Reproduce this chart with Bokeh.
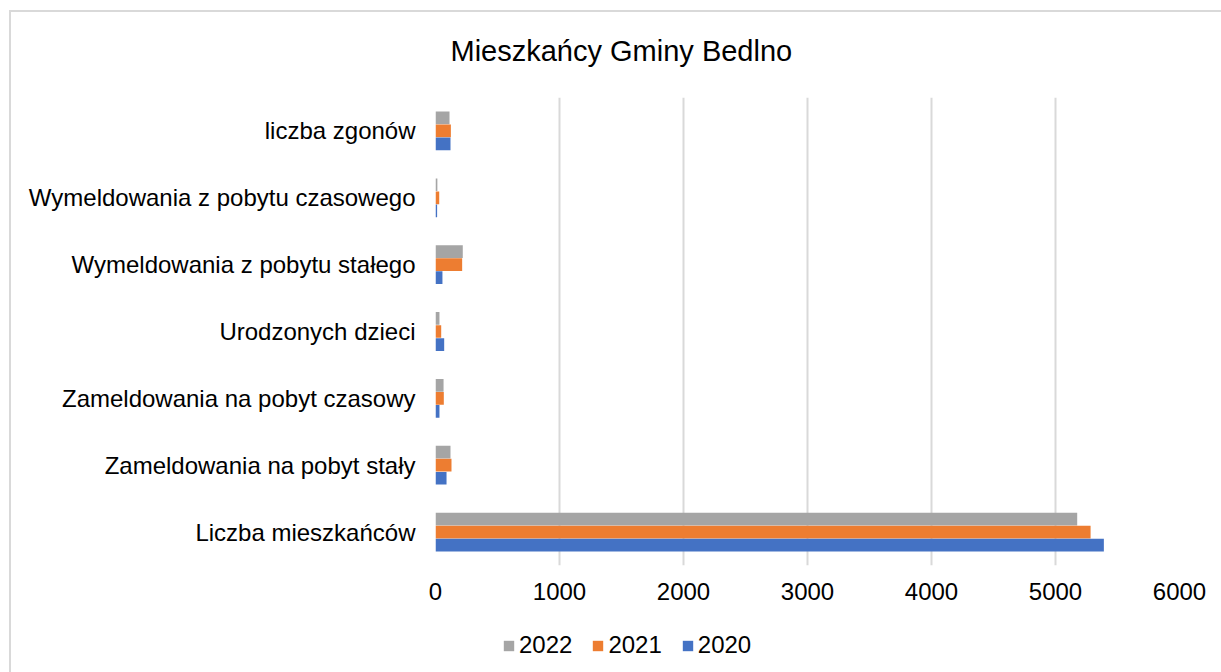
from bokeh.plotting import figure
from bokeh.layouts import column
from bokeh.models import ColumnDataSource, FactorRange, Legend, LegendItem, Title, Range1d
from bokeh.transform import dodge
from bokeh.embed import file_html
from bokeh.resources import INLINE

categories = [
    "Liczba mieszkańców",
    "Zameldowania na pobyt stały",
    "Zameldowania na pobyt czasowy",
    "Urodzonych dzieci",
    "Wymeldowania z pobytu stałego",
    "Wymeldowania z pobytu czasowego",
    "liczba zgonów",
]
v2020 = [5390, 89, 32, 70, 56, 13, 121]
v2021 = [5283, 129, 67, 46, 215, 30, 124]
v2022 = [5175, 121, 65, 32, 220, 15, 113]
years = ["2022", "2021", "2020"]
colors = {"2022": "#A5A5A5", "2021": "#ED7D31", "2020": "#4472C4"}

src = ColumnDataSource(dict(cat=categories, y2020=v2020, y2021=v2021, y2022=v2022))

FONT = "Liberation Sans"
LEG_H = 50

p = figure(
    width=1221, height=672 - LEG_H,
    y_range=FactorRange(*categories, range_padding=0),
    x_range=(0, 6000),
    output_backend="svg", toolbar_location=None,
    min_border_left=435, min_border_right=42,
    min_border_top=97, min_border_bottom=672 - LEG_H - 565,
    title=None,
)
p.outline_line_color = None
p.background_fill_color = "white"
p.border_fill_color = None

offsets = {"2022": 0.195, "2021": 0.0, "2020": -0.195}
for yr in years:
    p.hbar(y=dodge("cat", offsets[yr], range=p.y_range), right="y" + yr, left=0,
           height=0.19, source=src, fill_color=colors[yr], line_color=None)

p.ygrid.grid_line_color = None
p.xgrid.grid_line_color = "#D9D9D9"
p.xgrid.grid_line_width = 2
p.xaxis.ticker = [0, 1000, 2000, 3000, 4000, 5000, 6000]

for ax in (p.xaxis[0], p.yaxis[0]):
    ax.axis_line_color = None
    ax.major_tick_line_color = None
    ax.minor_tick_line_color = None
    ax.major_label_text_font = FONT
    ax.major_label_text_font_size = "24px"
    ax.major_label_text_color = "#000000"
p.yaxis.major_label_standoff = 14
p.xaxis.major_label_standoff = 11

title = Title(text="Mieszkańcy Gminy Bedlno", text_font=FONT, text_font_size="29px",
              text_font_style="normal", text_color="#000000", align="left", offset=15,
              standoff=62)
p.add_layout(title, "above")

# legend strip (frame is aligned with the main plot's frame by the column layout)
lf = figure(width=1221, height=LEG_H, x_range=Range1d(0, 1), y_range=Range1d(0, 1),
            output_backend="svg", toolbar_location=None,
            min_border=0, min_border_left=0, min_border_right=0,
            min_border_top=0, min_border_bottom=0)
lf.axis.visible = False
lf.grid.visible = False
lf.outline_line_color = None
lf.background_fill_color = "white"
lf.border_fill_color = None
items = []
for yr in years:
    r = lf.hbar(y=[-5], right=[0], left=0, height=0.5, fill_color=colors[yr], line_color=None)
    items.append(LegendItem(label=yr, renderers=[r]))

legend = Legend(
    items=items,
    orientation="horizontal",
    location=(67, 13),
    label_text_font=FONT, label_text_font_size="24px", label_text_color="#000000",
    glyph_width=13, glyph_height=13, spacing=19, label_standoff=4,
    border_line_color=None, background_fill_alpha=0, padding=0, margin=0,
)
lf.add_layout(legend, "center")

chart_border = {
    "background": ("linear-gradient(#D9D9D9, #D9D9D9) 9px 10px / 2px 100% no-repeat, "
                   "linear-gradient(#D9D9D9, #D9D9D9) 9px 10px / 100% 2px no-repeat, white"),
}
layout = column(p, lf, spacing=0, styles=chart_border)
open("out.html", "w").write(file_html(layout, INLINE))
